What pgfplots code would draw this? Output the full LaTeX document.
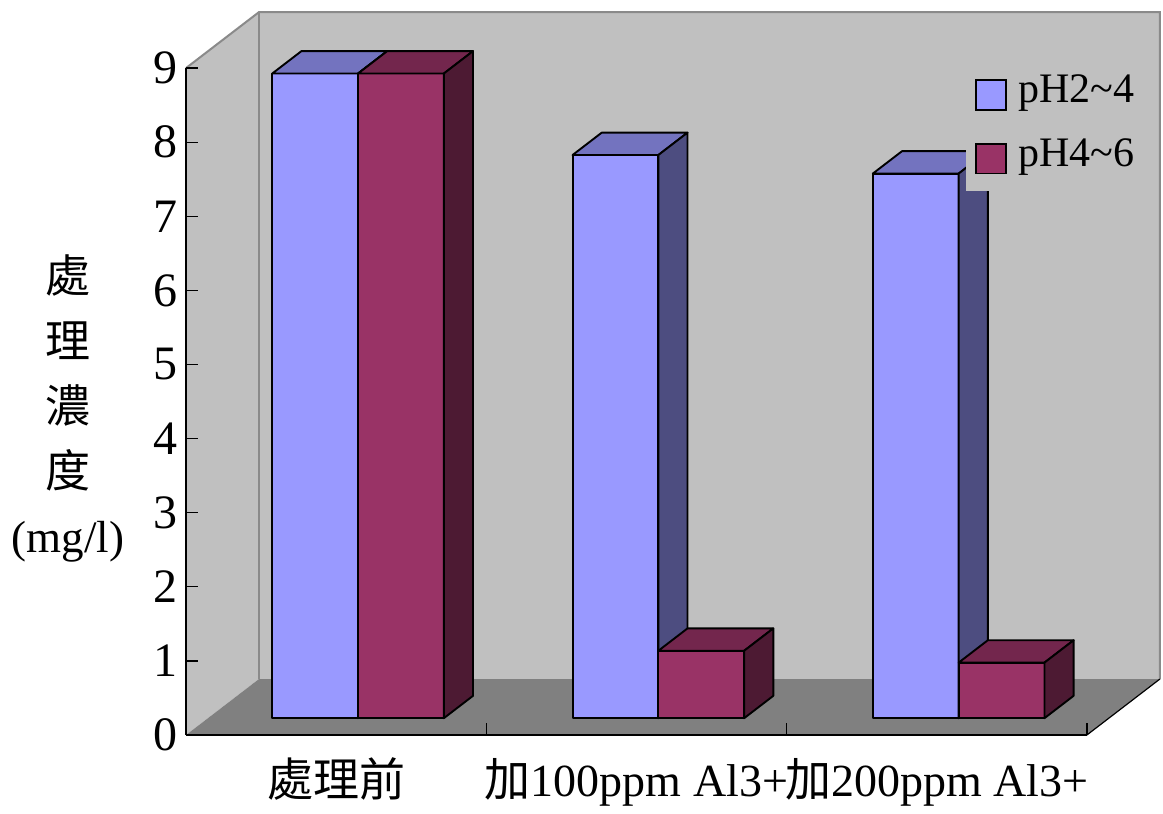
\documentclass[border=0pt]{standalone}
\usepackage{pgfplots}
\pgfplotsset{compat=1.18}
\usepackage{fontspec}
\setmainfont{Liberation Serif}
\newfontfamily\cjk{Noto Sans CJK TC}
\definecolor{blueF}{HTML}{9999FF}
\definecolor{blueT}{HTML}{7373BF}
\definecolor{blueS}{HTML}{4D4D80}
\definecolor{redF}{HTML}{993366}
\definecolor{redT}{HTML}{73264D}
\definecolor{redS}{HTML}{4D1A33}
\definecolor{wall}{HTML}{C0C0C0}
\definecolor{floorc}{HTML}{808080}
\definecolor{edgec}{HTML}{8A8A8A}
% bar geometry in axis units: width, front offset (x,y), depth (x,y)
\def\bw{0.2857}\def\ba{0.0729}\def\bb{0.2267}\def\bd{0.0972}\def\be{0.3023}
% #1 = left edge of bar (category units), #2 = value, #3 front, #4 top, #5 side colour
\newcommand\cuboid[5]{%
 \pgfmathsetmacro\xa{#1+\ba}%
 \pgfmathsetmacro\xb{#1+\bw+\ba}%
 \pgfmathsetmacro\xc{#1+\bw+\ba+\bd}%
 \pgfmathsetmacro\xd{#1+\ba+\bd}%
 \pgfmathsetmacro\ya{\bb}%
 \pgfmathsetmacro\yb{#2+\bb}%
 \pgfmathsetmacro\yc{#2+\bb+\be}%
 \pgfmathsetmacro\yd{\bb+\be}%
 \edef\temp{%
 \noexpand\addplot[forget plot, fill=#3, draw=black, line width=0.95pt, line join=round] coordinates {(\xa,\ya) (\xb,\ya) (\xb,\yb) (\xa,\yb)} -- cycle;%
 \noexpand\addplot[forget plot, fill=#4, draw=black, line width=0.95pt, line join=round] coordinates {(\xa,\yb) (\xb,\yb) (\xc,\yc) (\xd,\yc)} -- cycle;%
 \noexpand\addplot[forget plot, fill=#5, draw=black, line width=0.95pt, line join=round] coordinates {(\xb,\ya) (\xc,\yd) (\xc,\yc) (\xb,\yb)} -- cycle;%
 }\temp}
\begin{document}
\begin{tikzpicture}
\begin{axis}[
 scale only axis, width=450.5pt, height=333.5pt,
 xmin=0, xmax=3, ymin=0, ymax=9,
 clip=false, axis on top,
 axis lines*=left,
 axis line style={black, line width=0.6pt},
 tick align=inside, major tick length=6pt, minor tick length=6pt,
 tick style={black, line width=0.6pt},
 ytick={0,1,2,3,4,5,6,7,8,9},
 xtick={0.5,1.5,2.5},
 xticklabels={{\cjk 處理前},{{\cjk 加}100ppm Al3+},{{\cjk 加}200ppm Al3+}},
 major x tick style={draw=none},
 minor xtick={1,2,3},
 /pgf/number format/assume math mode=true,
 yticklabel style={font=\fontsize{24}{24}\selectfont, inner sep=1pt, xshift=-3pt},
 xticklabel style={font=\fontsize{23}{23}\selectfont, yshift=-8pt},
 ylabel={{\cjk 處}\\{\cjk 理}\\{\cjk 濃}\\{\cjk 度}\\(mg/l)},
 every axis y label/.style={at={(axis description cs:-0.131,0.49)}, anchor=center, align=center, font=\fontsize{22.5}{32.5}\selectfont},
 legend style={at={(axis cs:2.597,9.08)}, anchor=north west, fill=wall, draw=none,
   font=\fontsize{21}{21}\selectfont, inner xsep=4.5pt, inner ysep=4pt, row sep=8pt, column sep=3.5pt,
   nodes={inner sep=2pt, text height=14pt, text depth=6pt}},
 legend cell align=left,
 legend image code/.code={\draw[#1, line width=0.95pt] (0pt,-7.5pt) rectangle (15pt,7.5pt);},
]
% walls and floor
\addplot[forget plot, fill=wall, draw=none] coordinates {(0,0) (0.2431,0.7557) (0.2431,9.7557) (0,9)} -- cycle;
\addplot[forget plot, fill=wall, draw=none] coordinates {(0.2431,0.7557) (3.2431,0.7557) (3.2431,9.7557) (0.2431,9.7557)} -- cycle;
\addplot[forget plot, fill=floorc, draw=none] coordinates {(0,0) (3,0) (3.2431,0.7557) (0.2431,0.7557)} -- cycle;
\addplot[forget plot, draw=edgec, line width=1pt] coordinates {(0,9) (0.2431,9.7557) (3.2431,9.7557) (3.2431,0.7557)};
\addplot[forget plot, draw=edgec, line width=1pt] coordinates {(0.2431,0.7557) (0.2431,9.7557)};
\addplot[forget plot, draw=black, line width=0.6pt] coordinates {(3,0) (3.2431,0.7557)};
% bars: values
\cuboid{0.2143}{8.70}{blueF}{blueT}{blueS}
\cuboid{0.5000}{8.70}{redF}{redT}{redS}
\cuboid{1.2143}{7.60}{blueF}{blueT}{blueS}
\cuboid{1.5000}{0.91}{redF}{redT}{redS}
\cuboid{2.2143}{7.35}{blueF}{blueT}{blueS}
\cuboid{2.5000}{0.75}{redF}{redT}{redS}
\addlegendimage{fill=blueF, draw=black}
\addlegendentry{pH2\char`~4}
\addlegendimage{fill=redF, draw=black}
\addlegendentry{pH4\char`~6}
\path (axis cs:-0.6194,9.919) rectangle (axis cs:3.2534,-1.066);
\end{axis}
\end{tikzpicture}
\end{document}
